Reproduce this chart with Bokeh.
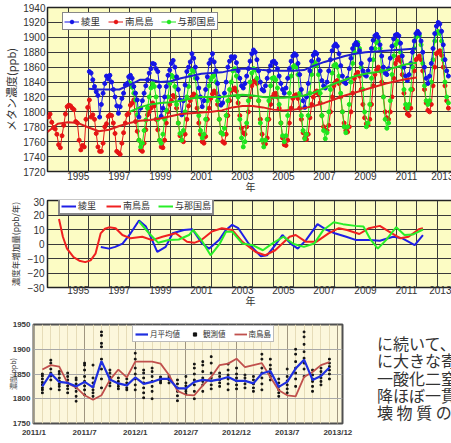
from bokeh.plotting import figure
from bokeh.models import Legend, LegendItem, FixedTicker, Range1d
from bokeh.layouts import column, row
from bokeh.embed import file_html
from bokeh.resources import INLINE
from bokeh.core.properties import value

# ---------------- data: chart 1 (monthly CH4, ppb) ----------------
red_start = 1994  # Jan 1994
red_ch4 = [
    1793, 1797, 1786, 1779, 1777, 1770, 1756, 1752, 1768, 1782, 1797, 1807,
    1809, 1808, 1805, 1803, 1787, 1785, 1762, 1749, 1755, 1753, 1790, 1806,
    1816, 1793, 1796, 1790, 1771, 1753, 1747, 1747, 1758, 1780, 1784, 1794,
    1796, 1795, 1785, 1771, 1747, 1745, 1743, 1758, 1772, 1785, 1796, 1798,
    1809, 1812, 1816, 1787, 1774, 1762, 1749, 1747, 1758, 1776, 1796, 1800,
    1805, 1812, 1808, 1790, 1776, 1762, 1753, 1752, 1762, 1785, 1800, 1810,
    1815, 1822, 1820, 1805, 1785, 1768, 1762, 1760, 1770, 1790, 1808, 1815,
    1820, 1824, 1822, 1805, 1785, 1770, 1760, 1758, 1767, 1790, 1805, 1818,
    1824, 1828, 1825, 1810, 1790, 1772, 1760, 1758, 1770, 1795, 1815, 1829,
    1830, 1832, 1828, 1812, 1795, 1778, 1772, 1770, 1780, 1800, 1820, 1835,
    1840, 1842, 1838, 1815, 1790, 1770, 1758, 1757, 1765, 1790, 1810, 1820,
    1824, 1825, 1820, 1805, 1785, 1765, 1756, 1755, 1762, 1785, 1805, 1818,
    1822, 1823, 1818, 1805, 1790, 1772, 1765, 1763, 1770, 1792, 1810, 1820,
    1826, 1828, 1824, 1812, 1795, 1780, 1776, 1775, 1782, 1800, 1820, 1835,
    1840, 1842, 1838, 1820, 1800, 1785, 1775, 1773, 1780, 1800, 1825, 1845,
    1850, 1853, 1848, 1830, 1810, 1792, 1784, 1782, 1790, 1810, 1835, 1850,
    1856, 1860, 1855, 1840, 1820, 1800, 1792, 1790, 1800, 1820, 1845, 1865,
    1870, 1873, 1868, 1850, 1825, 1805, 1797, 1795, 1805, 1830, 1855, 1870,
    1872, 1875, 1870, 1855, 1830, 1812, 1802, 1800, 1810, 1835, 1860, 1878,
    1880, 1882, 1876, 1860, 1835, 1815, 1805,
]
blue_start = 1996  # Jan 1996
blue_ch4 = [
    1854, 1852, 1843, 1834, 1827, 1822, 1793, 1810, 1825, 1838, 1848, 1844,
    1849, 1840, 1830, 1820, 1808, 1798, 1807, 1818, 1825, 1836, 1838, 1847,
    1849, 1845, 1834, 1825, 1816, 1793, 1805, 1815, 1825, 1835, 1843, 1852,
    1858, 1865, 1864, 1858, 1854, 1834, 1794, 1805, 1820, 1834, 1849, 1856,
    1865, 1869, 1860, 1847, 1830, 1816, 1796, 1815, 1836, 1854, 1860, 1867,
    1878, 1872, 1860, 1845, 1832, 1820, 1807, 1815, 1830, 1847, 1865, 1870,
    1878, 1867, 1855, 1838, 1820, 1809, 1812, 1825, 1840, 1860, 1868, 1874,
    1872, 1874, 1866, 1855, 1845, 1835, 1832, 1838, 1848, 1858, 1868, 1878,
    1883, 1880, 1870, 1855, 1840, 1830, 1828, 1835, 1845, 1855, 1862, 1867,
    1868, 1865, 1858, 1848, 1838, 1830, 1825, 1832, 1845, 1858, 1868, 1875,
    1878, 1876, 1865, 1850, 1830, 1815, 1806, 1820, 1838, 1855, 1868, 1876,
    1880, 1878, 1870, 1855, 1842, 1835, 1832, 1840, 1855, 1870, 1882, 1888,
    1891, 1888, 1878, 1862, 1848, 1840, 1838, 1845, 1858, 1872, 1885, 1890,
    1893, 1890, 1882, 1865, 1855, 1850, 1848, 1855, 1870, 1885, 1896, 1902,
    1904, 1900, 1890, 1875, 1860, 1852, 1850, 1858, 1872, 1888, 1898, 1903,
    1904, 1902, 1892, 1875, 1860, 1848, 1842, 1850, 1865, 1880, 1895, 1905,
    1908, 1905, 1895, 1880, 1860, 1845, 1838, 1848, 1865, 1885, 1905, 1915,
    1920, 1918, 1908, 1890, 1870, 1855, 1848,
]
green_start = 1997 + 11 / 12  # Dec 1997
green_ch4 = [
    1839,
    1838, 1833, 1825, 1816, 1796, 1762, 1753, 1758, 1775, 1789, 1805, 1820,
    1832, 1838, 1834, 1820, 1790, 1762, 1758, 1770, 1790, 1802, 1820, 1838,
    1849, 1847, 1834, 1810, 1785, 1771, 1762, 1775, 1800, 1820, 1834, 1849,
    1856, 1854, 1845, 1820, 1795, 1775, 1765, 1770, 1790, 1815, 1835, 1843,
    1847, 1849, 1840, 1815, 1790, 1772, 1770, 1778, 1795, 1815, 1830, 1840,
    1855, 1858, 1848, 1820, 1790, 1765, 1753, 1760, 1785, 1815, 1840, 1852,
    1858, 1856, 1845, 1815, 1785, 1762, 1753, 1762, 1790, 1815, 1835, 1845,
    1846, 1843, 1832, 1810, 1785, 1768, 1760, 1768, 1795, 1825, 1848, 1860,
    1862, 1860, 1850, 1825, 1795, 1775, 1764, 1770, 1795, 1825, 1850, 1862,
    1866, 1863, 1850, 1825, 1795, 1775, 1764, 1772, 1800, 1830, 1852, 1862,
    1864, 1860, 1848, 1825, 1800, 1780, 1772, 1780, 1810, 1840, 1865, 1880,
    1890, 1893, 1885, 1860, 1830, 1800, 1780, 1785, 1810, 1845, 1870, 1885,
    1893, 1895, 1885, 1855, 1820, 1790, 1778, 1785, 1815, 1850, 1875, 1890,
    1895, 1893, 1880, 1860, 1830, 1810, 1805, 1810, 1830, 1860, 1885, 1900,
    1904, 1902, 1890, 1865, 1835, 1815, 1810, 1815, 1840, 1870, 1895, 1905,
    1908, 1905, 1895, 1870, 1840, 1820, 1812,
]
# trend curves (year, ppb)
red_trend_year = [1994.0, 1994.5, 1995.0, 1995.5, 1996.0, 1996.5, 1997.0, 1997.5, 1998.0, 1998.5,
                  1999.0, 1999.5, 2000.0, 2000.5, 2001.0, 2001.5, 2002.0, 2002.5, 2003.0, 2003.5,
                  2004.0, 2004.5, 2005.0, 2005.5, 2006.0, 2006.5, 2007.0, 2007.5, 2008.0, 2008.5,
                  2009.0, 2009.5, 2010.0, 2010.5, 2011.0, 2011.5, 2012.0]
red_trend = [1773, 1784, 1786, 1785, 1779, 1774, 1776, 1781, 1785, 1788,
             1789, 1791, 1794, 1797, 1798, 1799, 1800, 1802, 1806, 1808,
             1808, 1806, 1803, 1802, 1803, 1805, 1808, 1812, 1817, 1822,
             1826, 1830, 1834, 1838, 1841, 1844, 1846]
blue_trend_year = [1996.0, 1996.5, 1997.0, 1997.5, 1998.0, 1998.5, 1999.0, 1999.5, 2000.0, 2000.5,
                   2001.0, 2001.5, 2002.0, 2002.5, 2003.0, 2003.5, 2004.0, 2004.5, 2005.0, 2005.5,
                   2006.0, 2006.5, 2007.0, 2007.5, 2008.0, 2008.5, 2009.0, 2009.5, 2010.0, 2010.5,
                   2011.0, 2011.5, 2012.0]
blue_trend = [1831, 1830, 1830, 1830, 1836, 1843, 1843, 1840, 1841, 1845,
              1848, 1851, 1852, 1853, 1856, 1858, 1858, 1856, 1855, 1855,
              1855, 1856, 1862, 1867, 1871, 1875, 1878, 1880, 1881, 1882,
              1883, 1884, 1885]
green_trend_year = [1998.0, 1998.5, 1999.0, 1999.5, 2000.0, 2000.5, 2001.0, 2001.5, 2002.0, 2002.5,
                    2003.0, 2003.5, 2004.0, 2004.5, 2005.0, 2005.5, 2006.0, 2006.5, 2007.0, 2007.5,
                    2008.0, 2008.5, 2009.0, 2009.5, 2010.0, 2010.5, 2011.0, 2011.5, 2012.0]
green_trend = [1800, 1806, 1810, 1812, 1813, 1815, 1818, 1820, 1820, 1820,
               1822, 1823, 1822, 1820, 1819, 1819, 1820, 1822, 1826, 1832,
               1838, 1843, 1848, 1851, 1853, 1856, 1860, 1864, 1866]

# ---------------- data: chart 2 (growth rate, ppb/yr) ----------------
red_gr_year = [1994.56, 1994.75, 1994.95, 1995.27, 1995.55, 1995.84, 1996.1, 1996.34, 1996.59, 1996.8,
               1997.0, 1997.32, 1997.65, 1998.05, 1998.62, 1999.1, 1999.6, 2000.25, 2000.8, 2001.15,
               2001.5, 2002.0, 2002.5, 2003.0, 2003.5, 2004.15, 2004.6, 2005.1, 2005.8, 2006.1,
               2006.6, 2007.1, 2007.7, 2008.2, 2008.6, 2009.2, 2009.67, 2010.2, 2010.65, 2011.2,
               2011.6, 2012.1, 2012.3]
red_gr = [17.2, 5, -3.2, -9, -11.5, -12.5, -11.3, -6.7, 7.3, 10.5,
          11.5, 10.9, 6.2, 3.9, 5, 2.7, 5, 7.4, 1.5, 0.8,
          2.7, 8.5, 10.9, 9.7, 1.5, -5.5, -7.8, -4.3, 5, 6.2,
          1.5, 1.5, 7.3, 10.9, 9.7, 6.9, 10.9, 12.5, 8.5, 3.9,
          5, 10.2, 10.9]
blue_gr_year = [1996.6, 1997.0, 1997.3, 1997.66, 1998.05, 1998.46, 1998.8, 1999.1, 1999.35, 1999.76,
                2000.1, 2000.65, 2001.06, 2001.54, 2001.87, 2002.36, 2002.7, 2003.0, 2003.3, 2003.8,
                2004.4, 2004.7, 2005.1, 2005.45, 2005.85, 2006.2, 2006.6, 2007.16, 2007.6, 2008.0,
                2008.56, 2009.05, 2009.7, 2010.2, 2010.85, 2011.3, 2011.9, 2012.3]
blue_gr = [-2, -3.2, -2, 0.3, 7.4, 16.2, 12, 2.7, -5.5, -2,
           7.4, 9.7, 10.2, 0.3, -3.2, 2.7, 9.7, 13.2, 10.9, 0.3,
           -8.5, -7.8, -0.8, 6.2, 0.3, -3.2, 2.7, 13.7, 9.7, 7.4,
           5, 2.7, 2.7, 2.2, 5, 3.9, -0.8, 6.2]
green_gr_year = [1998.46, 1998.95, 1999.4, 1999.9, 2000.4, 2000.9, 2001.1, 2001.5, 2001.95, 2002.4,
                 2002.7, 2003.0, 2003.5, 2004.0, 2004.5, 2004.95, 2005.5, 2006.0, 2006.5, 2007.0,
                 2007.45, 2007.95, 2008.4, 2009.0, 2009.4, 2009.75, 2010.1, 2010.5, 2011.0, 2011.4,
                 2011.8, 2012.3]
green_gr = [15.5, 7.4, 0.8, 2.7, 3.1, 6.2, 9.7, 2.7, -7.8, 0.3,
            8.5, 8.5, 0.3, -0.8, -4.3, 0.3, 5, 0, -2, 0.3,
            9.7, 15, 13.7, 12.5, 12, 3, -3.2, 2.7, 11.6, 6.2,
            6.5, 10]

# ---------------- data: chart 3 (2011/1 - 2013/12) ----------------
month_labels = ["2011/1", "2011/7", "2012/1", "2012/7", "2012/12", "2013/7", "2013/12"]
month_index = list(range(1, 36))  # Feb 2011 .. Dec 2013
monthly_mean = [1825, 1851, 1834, 1832, 1825, 1834, 1823, 1876, 1839, 1831,
                1827, 1843, 1830, 1834, 1840, 1840, 1821, 1821, 1834, 1838,
                1836, 1839, 1844, 1836, 1836, 1831, 1851, 1856, 1824, 1834,
                1861, 1879, 1838, 1846, 1863]
minamitori = [1859, 1868, 1865, 1831, 1823, 1807, 1798, 1807, 1838, 1859,
              1843, 1875, 1875, 1875, 1871, 1848, 1816, 1808, 1807, 1827,
              1844, 1868, 1871, 1881, 1864, 1868, 1872, 1844, 1817, 1807,
              1805, 1844, 1854, 1868, 1874]
observed = [
    [1812, 1818, 1822, 1828, 1833, 1840, 1846, 1850],
    [1820, 1838, 1846, 1852, 1860, 1872, 1878],
    [1818, 1825, 1830, 1836, 1842, 1850, 1855],
    [1812, 1820, 1826, 1832, 1838, 1845, 1852],
    [1795, 1805, 1815, 1822, 1830, 1838, 1842],
    [1808, 1818, 1826, 1835, 1845, 1858, 1868, 1872],
    [1805, 1812, 1818, 1824, 1832, 1842, 1868],
    [1822, 1840, 1860, 1880, 1905, 1912, 1928, 1935],
    [1826, 1832, 1838, 1844, 1852, 1858],
    [1820, 1825, 1830, 1835, 1842],
    [1818, 1822, 1828, 1832, 1840],
    [1818, 1828, 1840, 1850, 1862, 1880, 1892],
    [1802, 1812, 1822, 1832, 1842, 1852, 1858],
    [1800, 1815, 1825, 1835, 1845, 1855, 1862],
    [1832, 1836, 1840, 1844],
    [1832, 1838, 1842, 1846],
    [1796, 1806, 1815, 1822, 1830, 1838],
    [1810, 1815, 1820, 1826, 1832, 1845],
    [1800, 1815, 1828, 1838, 1850, 1862, 1870],
    [1815, 1828, 1835, 1842, 1855, 1868, 1875],
    [1820, 1828, 1836, 1842, 1852, 1872, 1885],
    [1825, 1832, 1838, 1845, 1852],
    [1818, 1830, 1840, 1848, 1858, 1870],
    [1820, 1828, 1836, 1842, 1850, 1862],
    [1822, 1830, 1836, 1842, 1848],
    [1815, 1822, 1830, 1838, 1845],
    [1818, 1830, 1842, 1852, 1862, 1880, 1890],
    [1838, 1845, 1852, 1860, 1868, 1880],
    [1805, 1812, 1818, 1825, 1832, 1840],
    [1812, 1820, 1828, 1836, 1845, 1860],
    [1825, 1840, 1852, 1862, 1875, 1890, 1900],
    [1845, 1860, 1872, 1882, 1895, 1910, 1925, 1935],
    [1815, 1825, 1835, 1840, 1848, 1858],
    [1828, 1835, 1842, 1848, 1855, 1862],
    [1840, 1850, 1858, 1865, 1872, 1880],
]
side_text = ["に続いて、", "に大きな寄", "一酸化二窒", "降ほぼ一貫", "壊 物 質 の"]

BLUE, RED, GREEN = "#1414e6", "#e61414", "#1ee61e"
FONT = "Liberation Sans"
JP = "Noto Sans CJK JP"


def months(start, n):
    return [start + (i + 0.5) / 12 for i in range(n)]


def style_year_axis(p):
    p.xaxis.ticker = FixedTicker(ticks=[y + 0.5 for y in range(1995, 2014, 2)])
    p.xaxis.major_label_overrides = {y + 0.5: str(y) for y in range(1995, 2014, 2)}
    p.xgrid.ticker = FixedTicker(ticks=list(range(1994, 2014)))
    for ax in (p.xaxis, p.yaxis):
        ax.axis_line_color = None
        ax.major_tick_line_color = None
        ax.minor_tick_line_color = None
        ax.major_tick_out = 0
        ax.major_tick_in = 0
        ax.major_label_text_font = FONT
        ax.major_label_text_font_size = "10px"
        ax.major_label_text_color = "#333333"
        ax.axis_label_text_font = JP
        ax.axis_label_text_font_style = "normal"
        ax.axis_label_text_color = "#333333"
    p.grid.grid_line_color = "#3a3a3a"
    p.grid.grid_line_width = 1
    p.background_fill_color = "#fcfcc4"
    p.outline_line_color = "#222222"
    p.outline_line_width = 1.5


# ---------------- figure 1 ----------------
p1 = figure(frame_width=406, frame_height=164, output_backend="svg", toolbar_location=None,
            x_range=Range1d(1994.0, 2013.79), y_range=Range1d(1720, 1940),
            min_border_left=45, min_border_right=0, min_border_top=7, min_border_bottom=26)
style_year_axis(p1)
p1.yaxis.ticker = FixedTicker(ticks=list(range(1720, 1941, 20)))
p1.ygrid.ticker = FixedTicker(ticks=list(range(1720, 1941, 20)))
p1.yaxis.axis_label = "メタン濃度(ppb)"
p1.yaxis.axis_label_text_font_size = "11px"
p1.yaxis.axis_label_standoff = 1
p1.yaxis.major_label_standoff = 2
p1.xaxis.axis_label = "年"
p1.xaxis.axis_label_text_font_size = "10px"
p1.xaxis.axis_label_standoff = -4
p1.xaxis.major_label_standoff = 0

rl = p1.line(months(red_start, len(red_ch4)), red_ch4, color=RED, line_width=1)
rs = p1.scatter(months(red_start, len(red_ch4)), red_ch4, color=RED, size=4)
gl = p1.line(months(green_start, len(green_ch4)), green_ch4, color=GREEN, line_width=1)
gs = p1.scatter(months(green_start, len(green_ch4)), green_ch4, color=GREEN, size=4)
bl = p1.line(months(blue_start, len(blue_ch4)), blue_ch4, color=BLUE, line_width=1)
bs = p1.scatter(months(blue_start, len(blue_ch4)), blue_ch4, color=BLUE, size=4)
p1.line(red_trend_year, red_trend, color="#dd1e1e", line_width=2)
p1.line(green_trend_year, green_trend, color="#22d422", line_width=2)
p1.line(blue_trend_year, blue_trend, color="#1e1ed2", line_width=2)

leg1 = Legend(items=[LegendItem(label="綾里", renderers=[bl, bs]),
                     LegendItem(label="南鳥島", renderers=[rl, rs]),
                     LegendItem(label="与那国島", renderers=[gl, gs])],
              orientation="horizontal", location=(15, 141),
              label_text_font=JP, label_text_font_size="9.5px", label_text_color="#333333",
              glyph_width=15, glyph_height=9, label_height=10, label_standoff=2,
              spacing=7, padding=1, margin=0,
              border_line_color="#111111", border_line_width=1.5,
              background_fill_color="white", background_fill_alpha=1)
p1.add_layout(leg1)

# ---------------- figure 2 ----------------
p2 = figure(frame_width=406, frame_height=87, output_backend="svg", toolbar_location=None,
            x_range=Range1d(1994.0, 2013.79), y_range=Range1d(-30, 30),
            min_border_left=45, min_border_right=0, min_border_top=3, min_border_bottom=23)
style_year_axis(p2)
p2.yaxis.ticker = FixedTicker(ticks=list(range(-30, 31, 10)))
p2.ygrid.ticker = FixedTicker(ticks=list(range(-30, 31, 10)))
p2.yaxis.axis_label = "濃度年増加量(ppb/年)"
p2.yaxis.axis_label_text_font_size = "8.5px"
p2.yaxis.axis_label_standoff = 4
p2.yaxis.major_label_standoff = 3
p2.xaxis.axis_label = "年"
p2.xaxis.axis_label_text_font_size = "10px"
p2.xaxis.axis_label_standoff = -4
p2.xaxis.major_label_standoff = -2

b2 = p2.line(blue_gr_year, blue_gr, color="#1e1ee6", line_width=2)
r2 = p2.line(red_gr_year, red_gr, color="#f02020", line_width=2)
g2 = p2.line(green_gr_year, green_gr, color="#28ee28", line_width=2)
leg2 = Legend(items=[LegendItem(label="綾里", renderers=[b2]),
                     LegendItem(label="南鳥島", renderers=[r2]),
                     LegendItem(label="与那国島", renderers=[g2])],
              orientation="horizontal", location=(15, 72),
              label_text_font=JP, label_text_font_size="9px", label_text_color="#333333",
              glyph_width=15, glyph_height=8, label_height=10, label_standoff=2,
              spacing=8, padding=1, margin=0,
              border_line_color="#111111", border_line_width=2,
              background_fill_color="white", background_fill_alpha=1)
p2.add_layout(leg2)

# ---------------- figure 3 ----------------
p3 = figure(frame_width=309, frame_height=99, output_backend="svg", toolbar_location=None,
            x_range=Range1d(-0.05, 36.55), y_range=Range1d(1750, 1950),
            min_border_left=33, min_border_right=18, min_border_top=14, min_border_bottom=20)
p3.background_fill_color = "#fcf7dc"
p3.outline_line_color = "#505050"
p3.outline_line_width = 2
tick_pos = [0, 6, 12, 18, 24, 30, 36]
p3.xaxis.ticker = FixedTicker(ticks=tick_pos)
p3.xaxis.major_label_overrides = dict(zip(tick_pos, month_labels))
p3.xgrid.ticker = FixedTicker(ticks=tick_pos, minor_ticks=list(range(0, 37)))
p3.xgrid.grid_line_color = "#a09680"
p3.xgrid.minor_grid_line_color = "#e6dcb8"
p3.yaxis.ticker = FixedTicker(ticks=list(range(1750, 1951, 50)))
p3.ygrid.grid_line_color = "#a8a8a8"
for ax in (p3.xaxis, p3.yaxis):
    ax.axis_line_color = None
    ax.major_tick_line_color = None
    ax.minor_tick_line_color = None
    ax.major_tick_out = 0
    ax.major_tick_in = 0
    ax.major_label_text_font = FONT
    ax.major_label_text_font_size = "8px"
    ax.major_label_text_font_style = "bold"
    ax.major_label_text_color = "#3a3a3a"
p3.yaxis.major_label_standoff = 3
p3.yaxis.axis_label = "濃度(ppb)"
p3.yaxis.axis_label_text_font = JP
p3.yaxis.axis_label_text_font_size = "7px"
p3.yaxis.axis_label_text_font_style = "normal"
p3.yaxis.axis_label_standoff = -8
p3.xaxis.major_label_standoff = 4

obs_x = [m for m, vals in zip(month_index, observed) for _ in vals]
obs_y = [v for vals in observed for v in vals]
od = p3.scatter(obs_x, obs_y, size=1.7, color="#111111", marker="square")
ml = p3.line(month_index, minamitori, color="#c0504d", line_width=1.8)
bl3 = p3.line(month_index, monthly_mean, color="#1f2fe0", line_width=2.2)
leg3 = Legend(items=[LegendItem(label="月平均値", renderers=[bl3]),
                     LegendItem(label="観測値", renderers=[od]),
                     LegendItem(label="南鳥島", renderers=[ml])],
              orientation="horizontal", location=(99, 81),
              label_text_font=JP, label_text_font_size="7.5px", label_text_color="#333333",
              glyph_width=13, glyph_height=8, label_height=9, label_standoff=2,
              spacing=8, padding=2, margin=0,
              border_line_color="#777777", border_line_width=1,
              background_fill_color="white", background_fill_alpha=1)
p3.add_layout(leg3)

# ---------------- side text ----------------
pt = figure(width=91, height=133, output_backend="svg", toolbar_location=None,
            x_range=Range1d(0, 91), y_range=Range1d(0, 133),
            min_border=0, x_axis_type=None, y_axis_type=None)
pt.outline_line_color = None
pt.grid.visible = False
pt.text(x=[16.5] * len(side_text), y=[108 - 23.3 * i for i in range(len(side_text))], text=side_text,
        text_font=value(JP), text_font_size="16px", text_color="#333333",
        text_baseline="middle", text_align="left")

layout = column(p1, p2, row(p3, pt))
open("out.html", "w").write(file_html(layout, INLINE))
